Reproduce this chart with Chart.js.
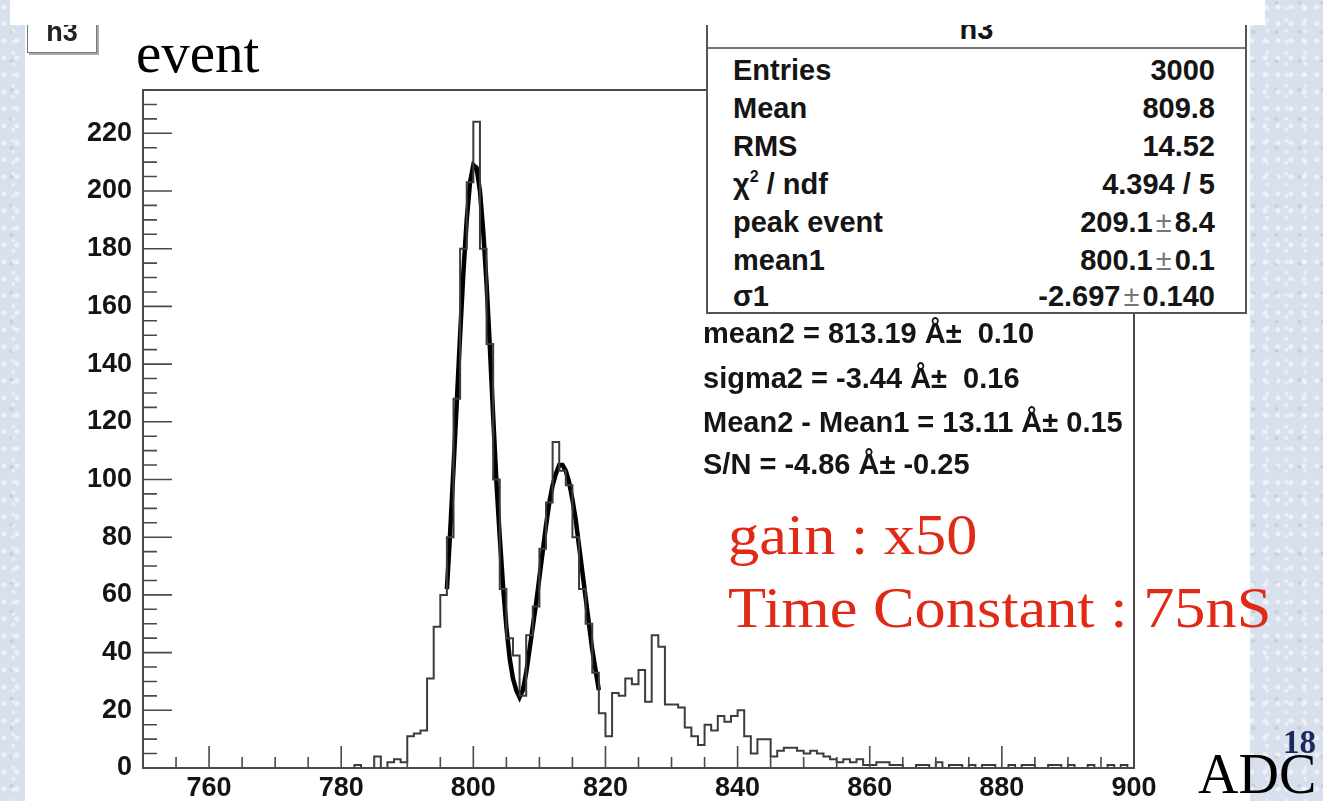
<!DOCTYPE html>
<html>
<head>
<meta charset="utf-8">
<script src="https://cdn.jsdelivr.net/npm/chart.js@4.4.1/dist/chart.umd.min.js"></script>
<style>
    html, body { margin: 0; padding: 0; }
    body {
        width: 1323px; height: 801px; overflow: hidden; position: relative;
        background-color: #d7e0ec;
        background-image:
            radial-gradient(circle at 30% 40%, rgba(255,255,255,0.55) 0 2px, transparent 3px),
            radial-gradient(circle at 70% 80%, rgba(255,255,255,0.45) 0 1.5px, transparent 2.5px),
            radial-gradient(circle at 50% 10%, rgba(160,175,200,0.35) 0 1.5px, transparent 2.5px);
        background-size: 13px 17px, 19px 11px, 23px 29px;
    }
    .abs { position: absolute; }
    #panel { left: 25px; top: 20px; width: 1225px; height: 781px; background: #fff; }
    #strip { left: 10px; top: 0; width: 1255px; height: 25px; background: #fff; z-index: 6; }
    #chartBox { left: 0; top: 0; width: 1323px; height: 801px; z-index: 2; }
    #titlePave {
        left: 27px; top: 4px; width: 68px; height: 47px; background: #fff;
        border: 1.5px solid #777; box-shadow: 2px 2px 0 #aaa; z-index: 4;
        font: bold 27px "Liberation Sans", Arial, sans-serif; color: #222;
        text-align: center; line-height: 1;
    }
    #titlePave span { position: absolute; left: 0; right: 0; top: 14px; }
    #stats {
        left: 706px; top: 2px; width: 537px; height: 308px; background: #fff;
        border: 2px solid #555; z-index: 4;
        font: bold 29px "Liberation Sans", Arial, sans-serif; color: #151515;
    }
    #stats .sep { position: absolute; left: 0; right: 0; top: 43px; height: 2px; background: #777; }
    #stats .ttl { position: absolute; left: 0; right: 0; top: 11px; text-align: center; line-height: 1; }
    #stats .row { position: absolute; left: 25px; right: 30px; height: 32px; line-height: 32px;
        display: flex; justify-content: space-between; }
    .pm { font-weight: normal; color: #777; margin: 0 3px; }
    sup { font-size: 16px; line-height: 0; vertical-align: 12px; }
    .fitText { left: 703px; z-index: 3; line-height: 32px;
        font: bold 29px "Liberation Sans", Arial, sans-serif; color: #151515; }
    .serif { font-family: "Liberation Serif", "Times New Roman", serif; line-height: 1; z-index: 3;
        white-space: nowrap; transform-origin: left top; }
    .wide { transform: scaleX(1.075); }
</style>
</head>
<body>
<div id="panel" class="abs"></div>
<div id="strip" class="abs"></div>
<div id="chartBox" class="abs"><canvas id="histChart" width="1323" height="801"></canvas></div>

<div id="titlePave" class="abs"><span>h3</span></div>
<div class="abs serif" style="left:136px; top:24px; font-size:57px; color:#000;">event</div>

<div id="stats" class="abs">
    <div class="ttl">h3</div>
    <div class="sep"></div>
    <div class="row" style="top:50px"><span>Entries</span><span>3000</span></div>
    <div class="row" style="top:88px"><span>Mean</span><span>809.8</span></div>
    <div class="row" style="top:126px"><span>RMS</span><span>14.52</span></div>
    <div class="row" style="top:164px"><span>χ<sup>2</sup> / ndf</span><span>4.394 / 5</span></div>
    <div class="row" style="top:202px"><span>peak event</span><span>209.1<span class="pm">±</span>8.4</span></div>
    <div class="row" style="top:240px"><span>mean1</span><span>800.1<span class="pm">±</span>0.1</span></div>
    <div class="row" style="top:276px"><span>σ1</span><span>-2.697<span class="pm">±</span>0.140</span></div>
</div>

<div class="abs fitText" style="top:317px">mean2 = 813.19 Å± &nbsp;0.10</div>
<div class="abs fitText" style="top:362px">sigma2 = -3.44 Å± &nbsp;0.16</div>
<div class="abs fitText" style="top:406px">Mean2 - Mean1 = 13.11 Å± 0.15</div>
<div class="abs fitText" style="top:448px">S/N = -4.86 Å± -0.25</div>

<div class="abs serif wide" style="left:728px; top:506px; font-size:58px; color:#e12a16;">gain : x50</div>
<div class="abs serif wide" style="left:728px; top:579px; font-size:58px; color:#e12a16;">Time Constant : 75nS</div>
<div class="abs serif" style="left:1198px; top:746px; font-size:56px; color:#000;">ADC</div>
<div class="abs serif" style="left:1283px; top:726px; font-size:33px; font-weight:bold; color:#1b2a5e;">18</div>

<script>
// histogram h3: one count per 1-ADC bin, bins start at firstBin
const firstBin = 750;
const lastEdge = 900;
const binCounts = [
    0, 0, 0, 0, 0, 0, 0, 0, 0, 0,          // 750
    0, 0, 0, 0, 0, 0, 0, 0, 0, 0,          // 760
    0, 0, 0, 0, 0, 0, 0, 0, 0, 0,          // 770
    0, 0, 1, 0, 0, 4, 0, 2, 3, 2,          // 780
    11, 12, 13, 31, 49, 60, 80, 128, 180, 203,   // 790
    224, 180, 147, 100, 62, 45, 39, 25, 46, 56,  // 800
    76, 92, 113, 103, 98, 80, 62, 50, 33, 19,    // 810
    11, 26, 25, 31, 29, 34, 23, 46, 42, 22,      // 820
    22, 21, 14, 11, 8, 15, 13, 18, 16, 18,       // 830
    20, 11, 5, 10, 10, 4, 6, 7, 7, 6,            // 840
    5, 6, 5, 4, 3, 2, 3, 2, 3, 1,                // 850
    1, 2, 2, 1, 1, 0, 0, 1, 1, 0,                // 860
    2, 0, 1, 1, 0, 1, 0, 1, 1, 0,                // 870
    0, 1, 0, 1, 1, 0, 0, 1, 1, 0,                // 880
    1, 0, 0, 1, 0, 0, 1, 0, 1, 0,                // 890
];

// double gaussian fit curve as drawn
const fitAdc = [
    796, 796.5, 797, 797.5, 798, 798.5, 799, 799.5, 800, 800.5,
    801, 801.5, 802, 802.5, 803, 803.5, 804, 804.5, 805, 805.5,
    806, 806.5, 807, 807.5, 808, 808.5, 809, 809.5, 810, 810.5,
    811, 811.5, 812, 812.5, 813, 813.5, 814, 814.5, 815, 815.5,
    816, 816.5, 817, 817.5, 818, 818.5, 819,
];
const fitCounts = [
    62, 82, 104, 127, 150, 172, 190, 203, 209, 208,
    200, 186, 168, 146, 122, 99, 80, 63, 49, 38,
    31, 27, 24.5, 27, 33, 41, 49, 57, 66, 75,
    84, 92, 98, 102, 105, 105, 103, 99, 93, 86,
    77, 68, 59, 50, 41, 34, 27,
];

const xTickLabels = [760, 780, 800, 820, 840, 860, 880, 900];
const yTickLabels = [0, 20, 40, 60, 80, 100, 120, 140, 160, 180, 200, 220];

const COLORS = {
    hist: '#3c3c3c',
    fit: '#000000',
    frame: '#4a4a4a',
    label: '#141414',
};

function histPoints() {
    const pts = binCounts.map((count, i) => ({ x: firstBin + i, y: count }));
    pts.push({ x: lastEdge, y: binCounts[binCounts.length - 1] });
    return pts;
}

// ROOT style frame with inward ticks
const rootFrame = {
    id: 'rootFrame',
    afterDatasetsDraw(chart) {
        const { ctx, chartArea: a, scales } = chart;
        ctx.save();
        ctx.strokeStyle = COLORS.frame;
        ctx.lineWidth = 2;
        ctx.strokeRect(a.left, a.top, a.right - a.left, a.bottom - a.top);

        ctx.lineWidth = 1.6;
        ctx.beginPath();
        for (let v = firstBin; v <= lastEdge; v += 5) {
            const px = scales.x.getPixelForValue(v);
            const len = xTickLabels.includes(v) ? 22 : 11;
            ctx.moveTo(px, a.bottom);
            ctx.lineTo(px, a.bottom - len);
        }
        for (let v = 0; v <= scales.y.max; v += 5) {
            const py = scales.y.getPixelForValue(v);
            const len = yTickLabels.includes(v) ? 29 : 14;
            ctx.moveTo(a.left, py);
            ctx.lineTo(a.left + len, py);
        }
        ctx.stroke();
        ctx.restore();
    },
};

const tickFont = { family: '"Liberation Sans", Arial, sans-serif', size: 27, weight: 'bold' };

new Chart(document.getElementById('histChart').getContext('2d'), {
    type: 'line',
    data: {
        datasets: [
            {
                label: 'h3',
                data: histPoints(),
                borderColor: COLORS.hist,
                borderWidth: 2,
                stepped: 'before',
                pointRadius: 0,
                fill: false,
            },
            {
                label: 'fit',
                data: fitAdc.map((x, i) => ({ x, y: fitCounts[i] })),
                borderColor: COLORS.fit,
                borderWidth: 4.5,
                tension: 0,
                pointRadius: 0,
                fill: false,
            },
        ],
    },
    options: {
        responsive: false,
        animation: false,
        layout: { padding: { top: 90, right: 189, left: 0, bottom: 0 } },
        plugins: { legend: { display: false }, tooltip: { enabled: false } },
        scales: {
            x: {
                type: 'linear',
                min: firstBin,
                max: lastEdge,
                afterFit(scale) { scale.height = 33; },
                afterBuildTicks(scale) { scale.ticks = xTickLabels.map((value) => ({ value })); },
                grid: { display: false, drawTicks: false },
                border: { display: false },
                ticks: {
                    padding: 4,
                    maxRotation: 0,
                    autoSkip: false,
                    color: COLORS.label,
                    font: tickFont,
                },
            },
            y: {
                type: 'linear',
                min: 0,
                max: 235,
                afterFit(scale) { scale.width = 143; },
                afterBuildTicks(scale) { scale.ticks = yTickLabels.map((value) => ({ value })); },
                grid: { display: false, drawTicks: false },
                border: { display: false },
                ticks: {
                    padding: 11,
                    autoSkip: false,
                    color: COLORS.label,
                    font: tickFont,
                },
            },
        },
    },
    plugins: [rootFrame],
});
</script>
</body>
</html>
